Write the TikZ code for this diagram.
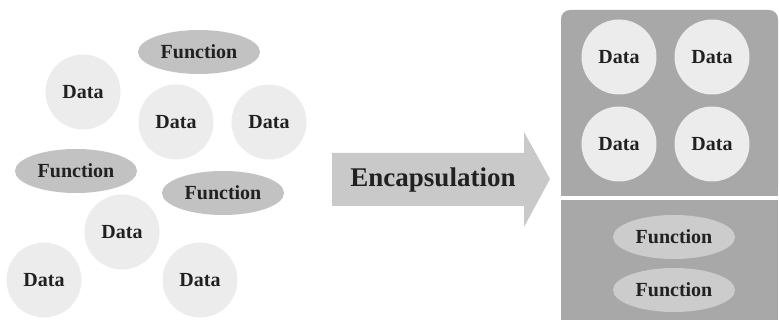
\documentclass[tikz,border=0pt]{standalone}
\usepackage{fontspec}
\setmainfont{Liberation Serif}
\usetikzlibrary{shapes.geometric}
\definecolor{datafill}{gray}{0.925}
\definecolor{funcfill}{gray}{0.76}
\definecolor{funcpanel}{gray}{0.80}
\definecolor{panelfill}{gray}{0.66}
\definecolor{arrowfill}{gray}{0.79}
\definecolor{inktext}{gray}{0.13}
\begin{document}
\begin{tikzpicture}[x=1pt,y=-1pt,
  every node/.style={font=\bfseries\fontsize{20}{24}\selectfont, text=inktext},
  datum/.style={circle, fill=datafill, minimum size=75pt, inner sep=0pt},
  func/.style={ellipse, fill=funcfill, minimum width=122pt, minimum height=44pt, inner sep=0pt},
  infunc/.style={func, fill=funcpanel},
  panel/.style={fill=panelfill}]
\useasboundingbox (0,0) rectangle (779,320);

% loose data and functions
\node[func]  (f1) at (199,52)  {Function};
\node[datum] (d1) at (83,92)   {Data};
\node[datum] (d2) at (176,122) {Data};
\node[datum] (d3) at (269,122) {Data};
\node[func]  (f2) at (76,171)  {Function};
\node[func]  (f3) at (223,193) {Function};
\node[datum] (d4) at (122,232) {Data};
\node[datum] (d5) at (44,280)  {Data};
\node[datum] (d6) at (200,280) {Data};

% encapsulation arrow
\fill[arrowfill] (332,153) -- (524,153) -- (524,132) -- (550,179)
  -- (524,227) -- (524,206) -- (332,206) -- cycle;
\node[font=\bfseries\fontsize{27}{32}\selectfont] (enc) at (433,180) {Encapsulation};

% capsule: data compartment above, function compartment below
\fill[panel, rounded corners=9pt] (561,10) rectangle (778,196);
\fill[panel] (561,170) rectangle (778,196);
\fill[panel] (561,200) rectangle (778,320);

\node[datum] (c1) at (619,57)  {Data};
\node[datum] (c2) at (712,57)  {Data};
\node[datum] (c3) at (619,144) {Data};
\node[datum] (c4) at (712,144) {Data};
\node[infunc] (g1) at (674,237) {Function};
\node[infunc] (g2) at (674,290) {Function};
\end{tikzpicture}
\end{document}
